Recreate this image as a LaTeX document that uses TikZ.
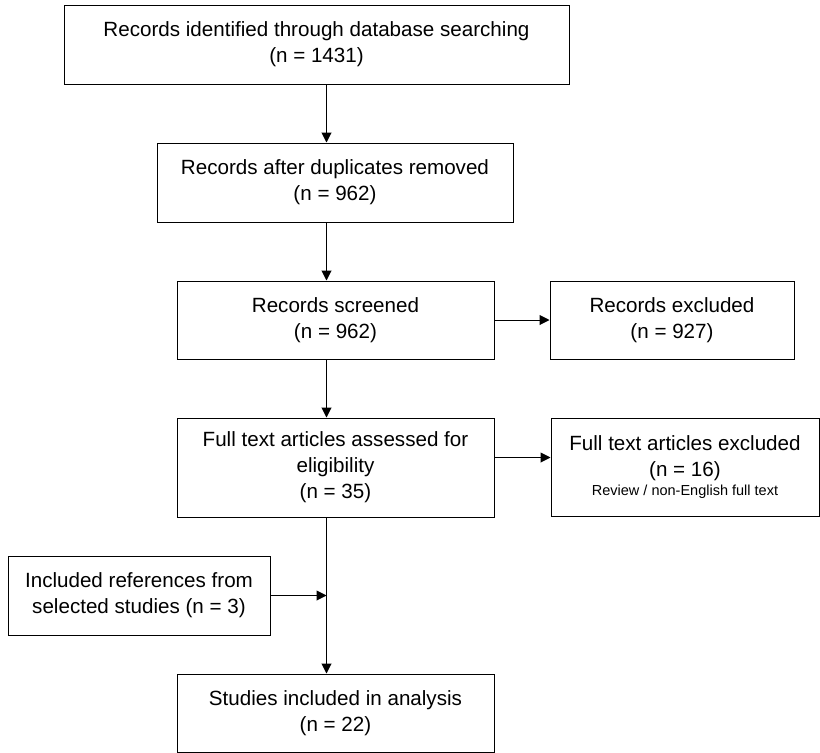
\documentclass[tikz,border=0pt]{standalone}
\usepackage{fontspec}
\setmainfont{Liberation Sans}
\usetikzlibrary{arrows.meta}

\begin{document}
\begin{tikzpicture}[x=1pt,y=-1pt,
box/.style={draw,line width=1pt,align=center,inner sep=0pt,font=\fontsize{20.6}{26}\selectfont},
arr/.style={-{Triangle[length=10pt,width=10pt]},line width=1pt}]
\useasboundingbox (0,0) rectangle (820,753);
\coordinate (spine) at (326.5,0);
\node[box,minimum width=505pt,minimum height=79pt](ident) at (316.5,44.5){Records identified through database searching\\(n = 1431)};
\node[box,minimum width=356pt,minimum height=79pt](dedup) at (335,182.5){Records after duplicates removed\\(n = 962)};
\node[box,minimum width=317pt,minimum height=78pt](screen) at (335.5,320){Records screened\\(n = 962)};
\node[box,minimum width=244pt,minimum height=78pt](excl) at (672,320){Records excluded\\(n = 927)};
\node[box,minimum width=317pt,minimum height=99pt](full) at (335.5,467.5){Full text articles assessed for\\eligibility\\(n = 35)};
\node[box,minimum width=268pt,minimum height=98pt](fexcl) at (685,467.5){Full text articles excluded\\(n = 16)\\[-7pt]{\fontsize{14.5}{17}\selectfont Review / non-English full text}};
\node[box,minimum width=262pt,minimum height=79pt](refs) at (139,595.5){Included references from\\selected studies (n = 3)};
\node[box,minimum width=317pt,minimum height=78pt](incl) at (335.5,713){Studies included in analysis\\(n = 22)};
% main flow
\draw[arr](ident.south -| spine)--(dedup.north -| spine);
\draw[arr](dedup.south -| spine)--(screen.north -| spine);
\draw[arr](screen.south -| spine)--(full.north -| spine);
\draw[arr](full.south -| spine)--(incl.north -| spine);
% exclusions
\draw[arr](screen.east)--(excl.west);
\draw[arr]([yshift=10pt]full.east)--([yshift=10pt]full.east -| fexcl.west);
\draw[arr](refs.east)--(refs.east -| spine);
\end{tikzpicture}
\end{document}
